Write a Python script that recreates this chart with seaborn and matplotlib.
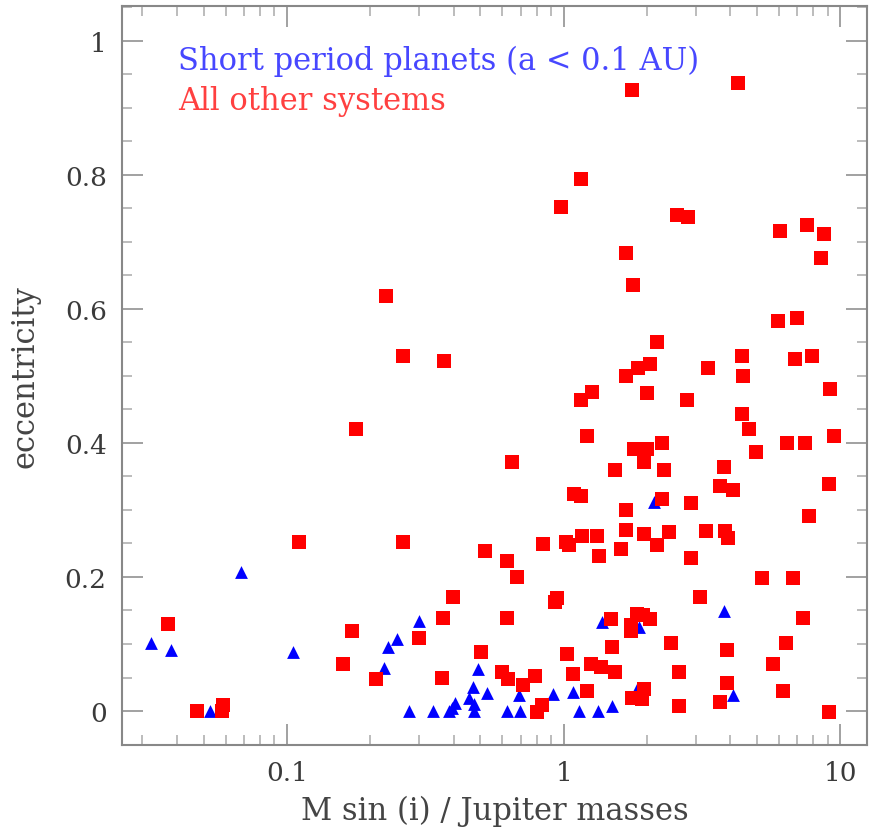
import numpy as np
import pandas as pd
import matplotlib
matplotlib.use("Agg")
import matplotlib.pyplot as plt
import seaborn as sns
from matplotlib.ticker import FixedLocator, FixedFormatter, LogLocator, NullFormatter, MultipleLocator

# ---- data: short period planets (a < 0.1 AU) ----
short_mass = [0.0321, 0.0379, 0.0525, 0.0679, 0.1047, 0.225, 0.232, 0.249, 0.299,
              0.277, 0.336, 0.385, 0.395, 0.405, 0.469, 0.455, 0.473, 0.476, 0.489,
              0.527, 0.622, 0.687, 0.694, 0.912, 1.08, 1.14, 1.33, 1.49, 1.38, 1.88,
              1.84, 2.12, 3.79, 4.08]
short_ecc = [0.101, 0.091, 0.0, 0.207, 0.088, 0.064, 0.095, 0.107, 0.134,
             0.0, 0.0, 0.0, 0.005, 0.012, 0.036, 0.019, 0.010, 0.0, 0.063,
             0.027, 0.0, 0.024, 0.0, 0.025, 0.028, 0.0, 0.0, 0.007, 0.133, 0.125,
             0.033, 0.312, 0.149, 0.024]

# ---- data: all other systems ----
other_mass = [0.0370, 0.0471, 0.0580, 0.0589, 0.110, 0.171, 0.159, 0.178, 0.262, 0.209,
              0.299, 0.227, 0.262, 0.368, 0.648, 0.518, 0.622, 0.676, 0.397, 0.365,
              0.622, 0.501, 0.362, 0.600, 0.630, 0.715, 0.785, 0.800, 0.832, 0.839,
              0.927, 0.943,
              1.16, 1.27, 1.21, 1.09, 1.16, 1.02, 1.05, 1.17, 1.32, 1.34, 1.61, 2.17,
              2.88, 1.76, 4.26, 1.16, 0.975, 2.56, 2.81, 6.04, 7.57, 8.71, 1.68, 8.50,
              1.78, 5.94, 6.96, 2.17, 2.05, 1.85, 1.68, 4.40, 6.84, 7.89, 3.32, 4.44,
              9.16, 2.01, 2.79, 4.40, 4.67, 4.95, 6.41, 7.45, 9.47, 9.08, 7.69, 1.79,
              2.01, 2.26, 1.96, 1.54, 2.30, 3.79, 3.67, 4.08, 2.26, 2.88, 1.68, 1.68,
              1.96, 2.40, 3.26, 3.82, 3.92,
              1.48, 1.75, 1.84, 1.93, 2.05, 1.75, 2.44, 1.50, 1.03, 1.26, 1.37, 1.53,
              1.08, 2.61, 1.21, 1.96, 1.76, 1.92, 2.61, 3.10, 5.20, 6.73, 7.31, 6.35,
              3.89, 5.70, 3.89, 6.20, 3.67, 9.08]
other_ecc = [0.130, 0.0, 0.0, 0.009, 0.252, 0.119, 0.070, 0.421, 0.252, 0.048,
             0.109, 0.619, 0.530, 0.522, 0.371, 0.239, 0.224, 0.200, 0.170, 0.139,
             0.139, 0.088, 0.049, 0.058, 0.048, 0.039, 0.052, -0.002, 0.009, 0.249,
             0.163, 0.169,
             0.464, 0.476, 0.410, 0.324, 0.321, 0.252, 0.248, 0.261, 0.261, 0.231, 0.242, 0.248,
             0.228, 0.927, 0.937, 0.794, 0.752, 0.740, 0.737, 0.716, 0.725, 0.712, 0.683, 0.676,
             0.636, 0.582, 0.587, 0.551, 0.518, 0.512, 0.500, 0.530, 0.525, 0.530, 0.512, 0.500,
             0.481, 0.475, 0.464, 0.443, 0.421, 0.387, 0.400, 0.400, 0.410, 0.339, 0.291, 0.391,
             0.391, 0.400, 0.371, 0.360, 0.360, 0.364, 0.336, 0.330, 0.316, 0.310, 0.300, 0.270,
             0.264, 0.267, 0.269, 0.269, 0.258,
             0.138, 0.128, 0.145, 0.143, 0.137, 0.119, 0.102, 0.095, 0.085, 0.070, 0.066, 0.058,
             0.055, 0.058, 0.030, 0.033, 0.020, 0.018, 0.008, 0.170, 0.198, 0.198, 0.139, 0.101,
             0.091, 0.070, 0.042, 0.030, 0.013, -0.002]

groups = ["Short period planets (a < 0.1 AU)", "All other systems"]
x_ticks = [0.1, 1, 10]
x_tick_labels = ["0.1", "1", "10"]
y_ticks = [0, 0.2, 0.4, 0.6, 0.8, 1.0]
y_tick_labels = ["0", "0.2", "0.4", "0.6", "0.8", "1"]

df = pd.DataFrame({
    "mass": short_mass + other_mass,
    "ecc": short_ecc + other_ecc,
    "group": [groups[0]] * len(short_mass) + [groups[1]] * len(other_mass),
})

sns.set_style("white")
plt.rcParams["font.family"] = ["DejaVu Serif"]

fig = plt.figure(figsize=(8.75, 8.29), dpi=100)
ax = fig.add_axes([122 / 875, 83 / 829, 745 / 875, 739 / 829])

colors = {groups[0]: "#0000ff", groups[1]: "#ff0000"}
markers = {groups[0]: "^", groups[1]: "s"}
sizes = {groups[0]: 85, groups[1]: 100}
for g in groups:
    sns.scatterplot(data=df[df["group"] == g], x="mass", y="ecc", ax=ax,
                    color=colors[g], marker=markers[g], s=sizes[g],
                    linewidth=0, legend=False, zorder=3)

ax.set_xscale("log")
ax.set_xlim(0.0253, 12.5)
ax.set_ylim(-0.0507, 1.052)

ax.xaxis.set_major_locator(FixedLocator(x_ticks))
ax.xaxis.set_major_formatter(FixedFormatter(x_tick_labels))
ax.xaxis.set_minor_locator(LogLocator(base=10, subs=np.arange(2, 10)))
ax.xaxis.set_minor_formatter(NullFormatter())
ax.yaxis.set_major_locator(FixedLocator(y_ticks))
ax.yaxis.set_major_formatter(FixedFormatter(y_tick_labels))
ax.yaxis.set_minor_locator(MultipleLocator(0.05))

ax.tick_params(which="both", direction="in", top=True, right=True,
               bottom=True, left=True)
ax.tick_params(which="major", length=15, width=1.1, color="#888888",
               labelsize=19, labelcolor="#3a3a3a", pad=11)
ax.tick_params(which="minor", length=7.5, width=1.1, color="#aaaaaa")

for sp in ax.spines.values():
    sp.set_color("#888888")
    sp.set_linewidth(1.5)

ax.set_xlabel("M sin (i) / Jupiter masses", fontsize=22, color="#444444")
ax.set_ylabel("eccentricity", fontsize=22, color="#444444")
ax.xaxis.set_label_coords(0.5, -0.068)
ax.yaxis.set_label_coords(-0.110, 0.5)

ax.text(0.0752, 0.915, groups[0], transform=ax.transAxes, fontsize=22,
        color="#4747ff", va="baseline", ha="left")
ax.text(0.0752, 0.861, groups[1], transform=ax.transAxes, fontsize=22,
        color="#ff4040", va="baseline", ha="left")

fig.savefig("out.png", dpi=100)
